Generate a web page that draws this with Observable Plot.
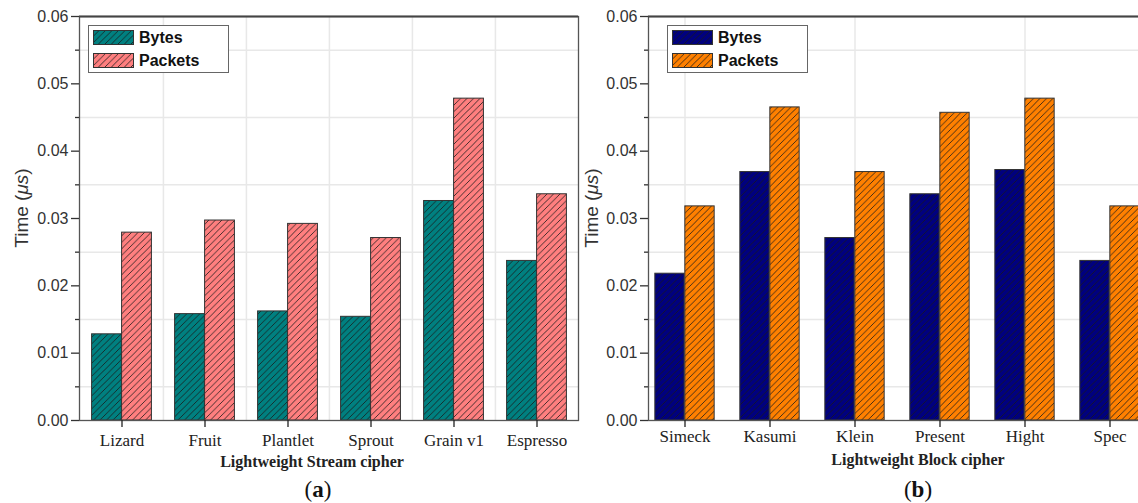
<!DOCTYPE html>
<html>
<head>
<meta charset="utf-8">
<script src="https://cdn.jsdelivr.net/npm/d3@7"></script>
<script src="https://cdn.jsdelivr.net/npm/@observablehq/plot@0.6"></script>
<style>
  body { margin: 0; background: #fff; }
  #wrap { position: relative; width: 1138px; height: 503px; overflow: hidden; background: #fff; font-family: "Liberation Sans", Arial, sans-serif; }
  .panel { position: absolute; top: 0; }
  .ytitle { position: absolute; transform: translate(-50%, -50%) rotate(-90deg); white-space: nowrap; font-size: 19px; color: #333; }
  .xtitle { position: absolute; transform: translate(-50%, -50%); white-space: nowrap; font-family: "Liberation Serif", serif; font-weight: bold; font-size: 16px; color: #222; }
  .cap { position: absolute; transform: translate(-50%, -50%); white-space: nowrap; font-family: "Liberation Serif", serif; font-size: 23px; color: #111; }
  .legend { position: absolute; top: 25px; width: 141px; height: 48px; border: 1px solid #666; background: #fff; box-sizing: border-box; }
  .legend .row { position: absolute; left: 4px; height: 15px; display: flex; align-items: center; }
  .legend .row span { margin-left: 5px; font-weight: bold; font-size: 16px; color: #111; }
</style>
</head>
<body>
<svg width="0" height="0" style="position:absolute">
  <defs id="defs"></defs>
</svg>
<div id="wrap"></div>
<script>
// ---- data ----
const seriesNames = ["Bytes", "Packets"];
const streamCiphers = ["Lizard", "Fruit", "Plantlet", "Sprout", "Grain v1", "Espresso"];
const streamBytes   = [0.0128, 0.0158, 0.0162, 0.0154, 0.0326, 0.0237];
const streamPackets = [0.0279, 0.0297, 0.0292, 0.0271, 0.0478, 0.0336];
const blockCiphers  = ["Simeck", "Kasumi", "Klein", "Present", "Hight", "Spec"];
const blockBytes    = [0.0218, 0.0369, 0.0271, 0.0336, 0.0372, 0.0237];
const blockPackets  = [0.0318, 0.0465, 0.0369, 0.0457, 0.0478, 0.0318];
const yTicks = [0, 0.01, 0.02, 0.03, 0.04, 0.05, 0.06];
const yMinor = [0.005, 0.015, 0.025, 0.035, 0.045, 0.055];
const colors = {teal: "#008080", salmon: "#FF7F7F", navy: "#00007F", orange: "#FF8000"};

// ---- hatch patterns ----
const defs = document.getElementById("defs");
for (const [name, c] of Object.entries(colors)) {
  defs.insertAdjacentHTML("beforeend",
    `<pattern id="hatch-${name}" patternUnits="userSpaceOnUse" width="6.5" height="6.5">
       <rect width="6.5" height="6.5" fill="${c}"/>
       <path d="M-1,1 L1,-1 M0,6.5 L6.5,0 M5.5,7.5 L7.5,5.5" stroke="#1a1a1a" stroke-width="0.8"/>
     </pattern>`);
}

const wrap = document.getElementById("wrap");

function panel({cats, bytes, packets, left, width, marginLeft, range, fillA, fillB, gridX, gridDx, tickDy}) {
  const rows = cats.map((c, i) => ({cipher: c, bytes: bytes[i], packets: packets[i]}));
  const step = (range[1] - range[0]) / cats.length;
  const barW = 30;
  const chart = Plot.plot({
    width, height: 503,
    marginLeft, marginRight: width - range[1], marginTop: 16, marginBottom: 83,
    style: {fontFamily: "Liberation Sans, Arial, sans-serif", background: "transparent", overflow: "visible"},
    x: {domain: cats, padding: 0, range, label: null, axis: null},
    y: {domain: [0, 0.06], label: null, axis: null},
    marks: [
      Plot.ruleY(yMinor, {stroke: "#e8e8e8", strokeWidth: 1.5}),
      Plot.ruleX(gridX, {stroke: "#e8e8e8", strokeWidth: 1.5, dx: gridDx === "edge" ? -step / 2 : 0}),
      Plot.barY(rows, {x: "cipher", y: "bytes", fill: fillA, stroke: "#333", strokeWidth: 1,
        insetLeft: step / 2 - barW, insetRight: step / 2}),
      Plot.barY(rows, {x: "cipher", y: "packets", fill: fillB, stroke: "#333", strokeWidth: 1,
        insetLeft: step / 2, insetRight: step / 2 - barW}),
      Plot.frame({stroke: "#555", strokeWidth: 1.3}),
      Plot.ruleY([0.06], {stroke: "#444", strokeWidth: 2}),
      Plot.axisY(yTicks, {tickSize: 8, tickPadding: 3, tickFormat: d3.format(".2f"), fontSize: 16, color: "#333", label: null, strokeWidth: 1.3}),
      Plot.axisY(yMinor, {tickSize: 4, text: null, color: "#333", label: null, strokeWidth: 1.3}),
      Plot.axisX({tickSize: 7, tickPadding: 6 + tickDy, fontSize: 17, fontFamily: "Liberation Serif, serif", color: "#222", label: null, strokeWidth: 1.3})
    ]
  });
  chart.classList.add("panel");
  chart.style.left = left + "px";
  wrap.appendChild(chart);
}

panel({cats: streamCiphers, bytes: streamBytes, packets: streamPackets, left: 0, width: 580,
  marginLeft: 79, range: [79, 578], fillA: "url(#hatch-teal)", fillB: "url(#hatch-salmon)",
  gridX: streamCiphers.slice(1), gridDx: "edge", tickDy: 0});
panel({cats: blockCiphers, bytes: blockBytes, packets: blockPackets, left: 560, width: 600,
  marginLeft: 88, range: [80, 594], fillA: "url(#hatch-navy)", fillB: "url(#hatch-orange)",
  gridX: [blockCiphers[0], blockCiphers[2], blockCiphers[4]], gridDx: "center", tickDy: -4});

// ---- titles, legends, captions ----
function html(s) { wrap.insertAdjacentHTML("beforeend", s); }
html(`<div class="ytitle" style="left:22px;top:208px">Time (<i>μs</i>)</div>`);
html(`<div class="ytitle" style="left:592px;top:208px">Time (<i>μs</i>)</div>`);
html(`<div class="xtitle" style="left:312px;top:462px">Lightweight Stream cipher</div>`);
html(`<div class="xtitle" style="left:918px;top:460px">Lightweight Block cipher</div>`);
html(`<div class="cap" style="left:318px;top:490px">(<b>a</b>)</div>`);
html(`<div class="cap" style="left:918px;top:490px">(<b>b</b>)</div>`);

function legend(left, fills) {
  const rows = seriesNames.map((n, i) =>
    `<div class="row" style="top:${4 + i * 23}px"><svg width="41" height="15"><rect x="0.5" y="0.5" width="40" height="14" fill="${fills[i]}" stroke="#333"/></svg><span>${n}</span></div>`).join("");
  html(`<div class="legend" style="left:${left}px">${rows}</div>`);
}
legend(88, ["url(#hatch-teal)", "url(#hatch-salmon)"]);
legend(667, ["url(#hatch-navy)", "url(#hatch-orange)"]);
</script>
</body>
</html>
